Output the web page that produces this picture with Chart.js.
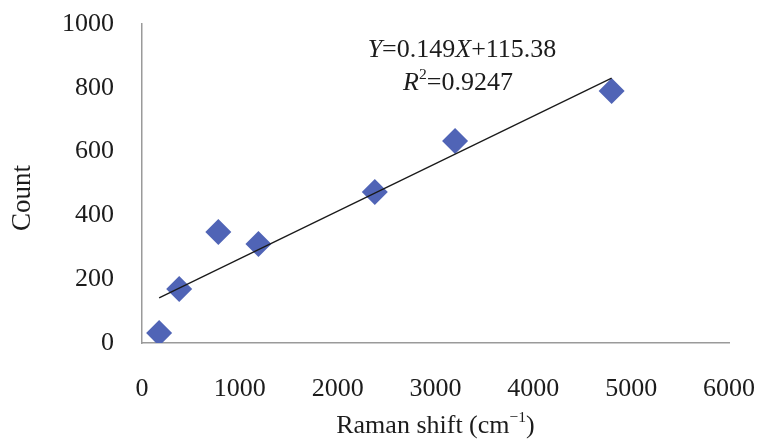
<!DOCTYPE html>
<html>
<head>
<meta charset="utf-8">
<script src="https://cdn.jsdelivr.net/npm/chart.js@4.4.1/dist/chart.umd.min.js"></script>
<style>
  html, body { margin: 0; padding: 0; background: #fff; }
</style>
</head>
<body>
<canvas id="raman" width="757" height="446"></canvas>
<script>
// measured points
const ramanShift = [175, 380, 780, 1190, 2380, 3200, 4800];
const counts = [31, 169, 348, 310, 473, 633, 790];

// linear fit
const SLOPE = 0.149;
const INTERCEPT = 115.38;
const R_SQUARED = 0.9247;

const xTicks = [0, 1000, 2000, 3000, 4000, 5000, 6000];
const yTicks = [0, 200, 400, 600, 800, 1000];

const SERIF = "'Liberation Serif', 'Times New Roman', serif";
const TEXT = '#1c1c1c';
const AXIS = '#9a9a9a';
const FONT_SIZE = 26;

const xMin = Math.min(...ramanShift);
const xMax = Math.max(...ramanShift);
const fitLine = [xMin, xMax].map(x => ({ x: x, y: SLOPE * x + INTERCEPT }));

// draws runs of plain / italic / superscript text centred on (cx, cy)
function drawRuns(ctx, runs, cx, cy, size) {
  const fontOf = r => (r.italic ? 'italic ' : '') + (r.sup ? size * 0.6 : size) + 'px ' + SERIF;
  let total = 0;
  runs.forEach(r => { ctx.font = fontOf(r); r.w = ctx.measureText(r.text).width; total += r.w; });
  let x = cx - total / 2;
  ctx.textBaseline = 'middle';
  ctx.textAlign = 'left';
  ctx.fillStyle = TEXT;
  runs.forEach(r => {
    ctx.font = fontOf(r);
    ctx.fillText(r.text, x, r.sup ? cy - size * 0.3 : cy);
    x += r.w;
  });
}

// fit equation plus both axis titles
const labels = {
  id: 'labels',
  afterDatasetsDraw(chart) {
    const ctx = chart.ctx;
    const area = chart.chartArea;
    ctx.save();
    drawRuns(ctx, [
      { text: 'Y', italic: true },
      { text: '=' + SLOPE },
      { text: 'X', italic: true },
      { text: '+' + INTERCEPT }
    ], 462, 50, FONT_SIZE);
    drawRuns(ctx, [
      { text: 'R', italic: true },
      { text: '2', sup: true },
      { text: '=' + R_SQUARED }
    ], 458, 83, FONT_SIZE);

    drawRuns(ctx, [
      { text: 'Raman shift (cm' },
      { text: '\u22121', sup: true },
      { text: ')' }
    ], (area.left + area.right) / 2, 426, FONT_SIZE);

    ctx.translate(23, 198);
    ctx.rotate(-Math.PI / 2);
    drawRuns(ctx, [{ text: 'Count' }], 0, 0, 27);
    ctx.restore();
  }
};

const plain = v => String(v);

new Chart(document.getElementById('raman'), {
  type: 'scatter',
  data: {
    datasets: [
      {
        type: 'line',
        data: fitLine,
        borderColor: '#1a1a1a',
        borderWidth: 1.3,
        pointRadius: 0,
        fill: false,
        order: 0
      },
      {
        data: ramanShift.map((x, i) => ({ x: x, y: counts[i] })),
        pointStyle: 'rectRot',
        pointRadius: 13,
        backgroundColor: 'rgb(80,100,182)',
        borderWidth: 0,
        order: 1
      }
    ]
  },
  options: {
    responsive: false,
    animation: false,
    devicePixelRatio: 1,
    layout: { padding: { left: 0, right: 28, top: 24, bottom: 0 } },
    plugins: { legend: { display: false }, tooltip: { enabled: false } },
    scales: {
      x: {
        type: 'linear',
        min: xTicks[0],
        max: xTicks[xTicks.length - 1],
        afterBuildTicks: s => { s.ticks = xTicks.map(v => ({ value: v })); },
        afterFit: s => { s.height = 103; s.paddingLeft = 0; s.paddingRight = 0; },
        grid: { display: false, drawTicks: false },
        border: { color: AXIS, width: 1.5 },
        ticks: { padding: 31, maxRotation: 0, color: TEXT, font: { family: SERIF, size: FONT_SIZE }, callback: plain }
      },
      y: {
        min: yTicks[0],
        max: yTicks[yTicks.length - 1],
        afterBuildTicks: s => { s.ticks = yTicks.map(v => ({ value: v })); },
        afterFit: s => { s.width = 142; s.paddingTop = 0; s.paddingBottom = 0; },
        grid: { display: false, drawTicks: false },
        border: { color: AXIS, width: 1.5 },
        ticks: { padding: 28, color: TEXT, font: { family: SERIF, size: FONT_SIZE }, callback: plain }
      }
    }
  },
  plugins: [labels]
});
</script>
</body>
</html>
